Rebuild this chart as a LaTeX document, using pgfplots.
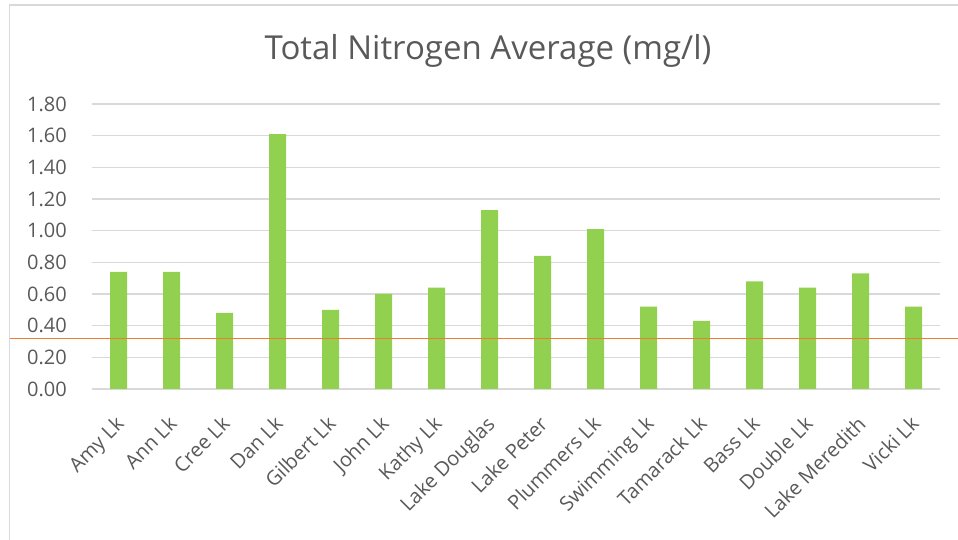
\documentclass[border=0pt]{standalone}
\usepackage{pgfplots}
\pgfplotsset{compat=1.18}
\usepackage{fontspec}
\setmainfont{Open Sans}
\definecolor{bargreen}{HTML}{92D050}
\definecolor{gridgray}{HTML}{D9D9D9}
\definecolor{txt}{HTML}{595959}
\definecolor{orangeline}{HTML}{ED7D31}
\begin{document}
\begin{tikzpicture}[x=1bp,y=1bp]
\useasboundingbox (0,0) rectangle (958,540);
\draw[gridgray, line width=1.5bp] (9.5,0) -- (9.5,535) -- (958,535);
\node[txt, font=\fontsize{33bp}{39bp}\selectfont, anchor=base] at (488,480) {Total Nitrogen Average (mg/l)};
\begin{axis}[
  at={(92bp,151bp)}, anchor=south west,
  scale only axis, width=848bp, height=285bp,
  xmin=-0.5, xmax=15.5, ymin=0, ymax=1.8,
  ytick={0,0.2,0.4,0.6,0.8,1.0,1.2,1.4,1.6,1.8},
  xtick={0,...,15},
  xticklabels={Amy Lk,Ann Lk,Cree Lk,Dan Lk,Gilbert Lk,John Lk,Kathy Lk,Lake Douglas,Lake Peter,Plummers Lk,Swimming Lk,Tamarack Lk,Bass Lk,Double Lk,Lake Meredith,Vicki Lk},
  ymajorgrids, major grid style={gridgray, line width=1.3bp},
  axis line style={draw=none},
  major tick length=0pt,
  clip=false,
  /pgf/number format/assume math mode=true,
  yticklabel={\pgfmathprintnumber[fixed,fixed zerofill,precision=2]{\tick}},
  ticklabel style={txt, font=\fontsize{20bp}{24bp}\selectfont},
  yticklabel style={anchor=east, inner sep=0pt, xshift=-25bp},
  xticklabel style={rotate=45, anchor=north east, inner sep=0pt, xshift=-21bp, yshift=-15bp},
]
\addplot[ybar, bar width=17bp, fill=bargreen, draw=none] coordinates {
  (0,0.74) (1,0.74) (2,0.48) (3,1.61) (4,0.50) (5,0.60) (6,0.64) (7,1.13)
  (8,0.84) (9,1.01) (10,0.52) (11,0.43) (12,0.68) (13,0.64) (14,0.73) (15,0.52)
};
\addplot[orangeline, line width=1.5bp, forget plot] coordinates {(-2.05,0.32) (15.85,0.32)};
\end{axis}
\end{tikzpicture}
\end{document}
